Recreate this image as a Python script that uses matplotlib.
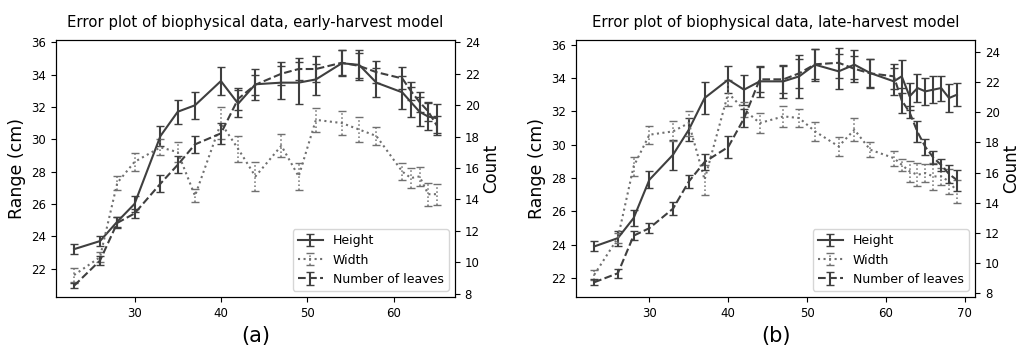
import matplotlib
matplotlib.use("Agg")
import matplotlib.pyplot as plt

# ---- data: early-harvest model (a) ----
days_a = [23, 26, 28, 30, 33, 35, 37, 40, 42, 44, 47, 49, 51, 54, 56, 58, 61, 62, 63, 64, 65]
height_a = [23.2, 23.7, 24.9, 26.0, 30.2, 31.7, 32.1, 33.6, 32.2, 33.4, 33.5, 33.5, 33.7, 34.7, 34.6, 33.5, 32.9, 32.3, 31.7, 31.4, 31.3]
height_err_a = [0.3, 0.3, 0.3, 0.5, 0.6, 0.75, 0.85, 0.85, 0.85, 0.95, 1.0, 1.3, 0.95, 0.8, 0.95, 0.9, 1.0, 0.9, 0.9, 0.85, 0.9]
width_a = [21.6, 22.7, 27.3, 28.6, 29.5, 29.2, 26.5, 31.0, 29.4, 27.7, 29.6, 27.7, 31.2, 31.0, 30.6, 30.2, 28.0, 27.6, 27.7, 26.6, 26.6]
width_err_a = [0.45, 0.3, 0.45, 0.55, 0.5, 0.6, 0.4, 1.0, 0.8, 0.9, 0.7, 0.85, 0.75, 0.75, 0.75, 0.55, 0.5, 0.6, 0.6, 0.7, 0.65]
leaves_a = [8.5, 10.1, 12.5, 13.1, 15.0, 16.2, 17.5, 18.2, 20.4, 21.3, 22.0, 22.3, 22.3, 22.7, 22.5, 22.1, 21.7, 20.9, 20.2, 19.6, 18.7]
leaves_err_a = [0.15, 0.3, 0.35, 0.3, 0.55, 0.55, 0.55, 0.65, 0.7, 0.65, 0.75, 0.7, 0.8, 0.8, 0.8, 0.7, 0.7, 0.55, 0.65, 0.6, 0.6]

# ---- data: late-harvest model (b) ----
days_b = [23, 26, 28, 30, 33, 35, 37, 40, 42, 44, 47, 49, 51, 54, 56, 58, 61, 62, 63, 64, 65, 66, 67, 68, 69]
height_b = [23.9, 24.4, 25.6, 27.9, 29.4, 30.9, 32.8, 33.9, 33.3, 33.8, 33.8, 34.1, 34.8, 34.4, 34.8, 34.3, 33.8, 34.1, 32.9, 33.4, 33.2, 33.3, 33.4, 32.8, 33.0]
height_err_b = [0.3, 0.45, 0.5, 0.5, 0.9, 0.7, 0.95, 0.8, 0.9, 0.95, 1.0, 1.3, 0.95, 1.05, 0.85, 0.85, 0.8, 1.0, 0.8, 0.85, 0.8, 0.8, 0.75, 0.85, 0.7]
width_b = [22.2, 24.4, 28.7, 30.6, 30.8, 31.3, 27.9, 33.1, 32.1, 31.3, 31.7, 31.6, 30.8, 29.9, 30.9, 29.7, 29.2, 28.8, 28.4, 28.2, 28.3, 28.1, 28.1, 27.8, 27.2]
width_err_b = [0.3, 0.3, 0.55, 0.55, 0.6, 0.75, 0.9, 0.8, 0.45, 0.6, 0.65, 0.55, 0.55, 0.55, 0.7, 0.45, 0.45, 0.35, 0.65, 0.7, 0.55, 0.8, 0.5, 0.75, 0.7]
leaves_b = [8.7, 9.3, 11.8, 12.3, 13.6, 15.4, 16.7, 17.7, 19.6, 22.2, 22.2, 22.6, 23.2, 23.3, 22.9, 22.6, 22.4, 20.8, 20.0, 18.7, 17.7, 17.0, 16.5, 15.9, 15.5]
leaves_err_b = [0.2, 0.3, 0.3, 0.35, 0.45, 0.45, 0.55, 0.7, 0.6, 0.85, 0.9, 0.95, 1.0, 1.0, 0.85, 0.95, 0.85, 0.85, 0.4, 0.7, 0.55, 0.45, 0.4, 0.6, 0.7]

titles = ["Error plot of biophysical data, early-harvest model",
          "Error plot of biophysical data, late-harvest model"]
captions = ["(a)", "(b)"]

col = "#3f3f3f"
dotcol = "#707070"

fig = plt.figure(figsize=(10.21, 3.54), dpi=100)

panels = [
    (days_a, height_a, height_err_a, width_a, width_err_a, leaves_a, leaves_err_a,
     0.0548, (20.24, 36.16), (7.78, 24.17)),
    (days_b, height_b, height_err_b, width_b, width_err_b, leaves_b, leaves_err_b,
     0.5642, (20.87, 36.3), (7.72, 24.84)),
]

for i, (d, h, he, w, we, lv, lve, left, ylim1, ylim2) in enumerate(panels):
    ax = fig.add_axes([left, 0.161, 0.3908, 0.727])
    ax2 = ax.twinx()
    l1 = ax.errorbar(d, h, yerr=he, color=col, ls='-', lw=1.5, capsize=3, elinewidth=1.5, label='Height')
    l2 = ax.errorbar(d, w, yerr=we, color=dotcol, ls=':', lw=1.5, capsize=3, elinewidth=1.1, label='Width')
    l3 = ax2.errorbar(d, lv, yerr=lve, color=col, ls='--', lw=1.5, capsize=3, elinewidth=1.5, label='Number of leaves')
    l2[-1][0].set_linestyle(':')
    ax.set_ylim(*ylim1)
    ax2.set_ylim(*ylim2)
    ax.set_yticks(range(22, 37, 2))
    ax2.set_yticks(range(8, 25, 2))
    ax.set_xticks(range(30, 71, 10) if i == 1 else range(30, 61, 10))
    ax.set_ylabel("Range (cm)", fontsize=12.5)
    ax2.set_ylabel("Count", fontsize=12, labelpad=2)
    ax.set_title(titles[i], fontsize=10.7, pad=9)
    ax.tick_params(labelsize=8.5)
    ax2.tick_params(labelsize=8.5)
    ax2.legend([l1, l2, l3], ['Height', 'Width', 'Number of leaves'], loc='lower right', fontsize=9)
    fig.text(left + 0.3908 / 2, 0.05, captions[i], fontsize=15, ha='center', va='center')

fig.savefig("out.png", dpi=100)
